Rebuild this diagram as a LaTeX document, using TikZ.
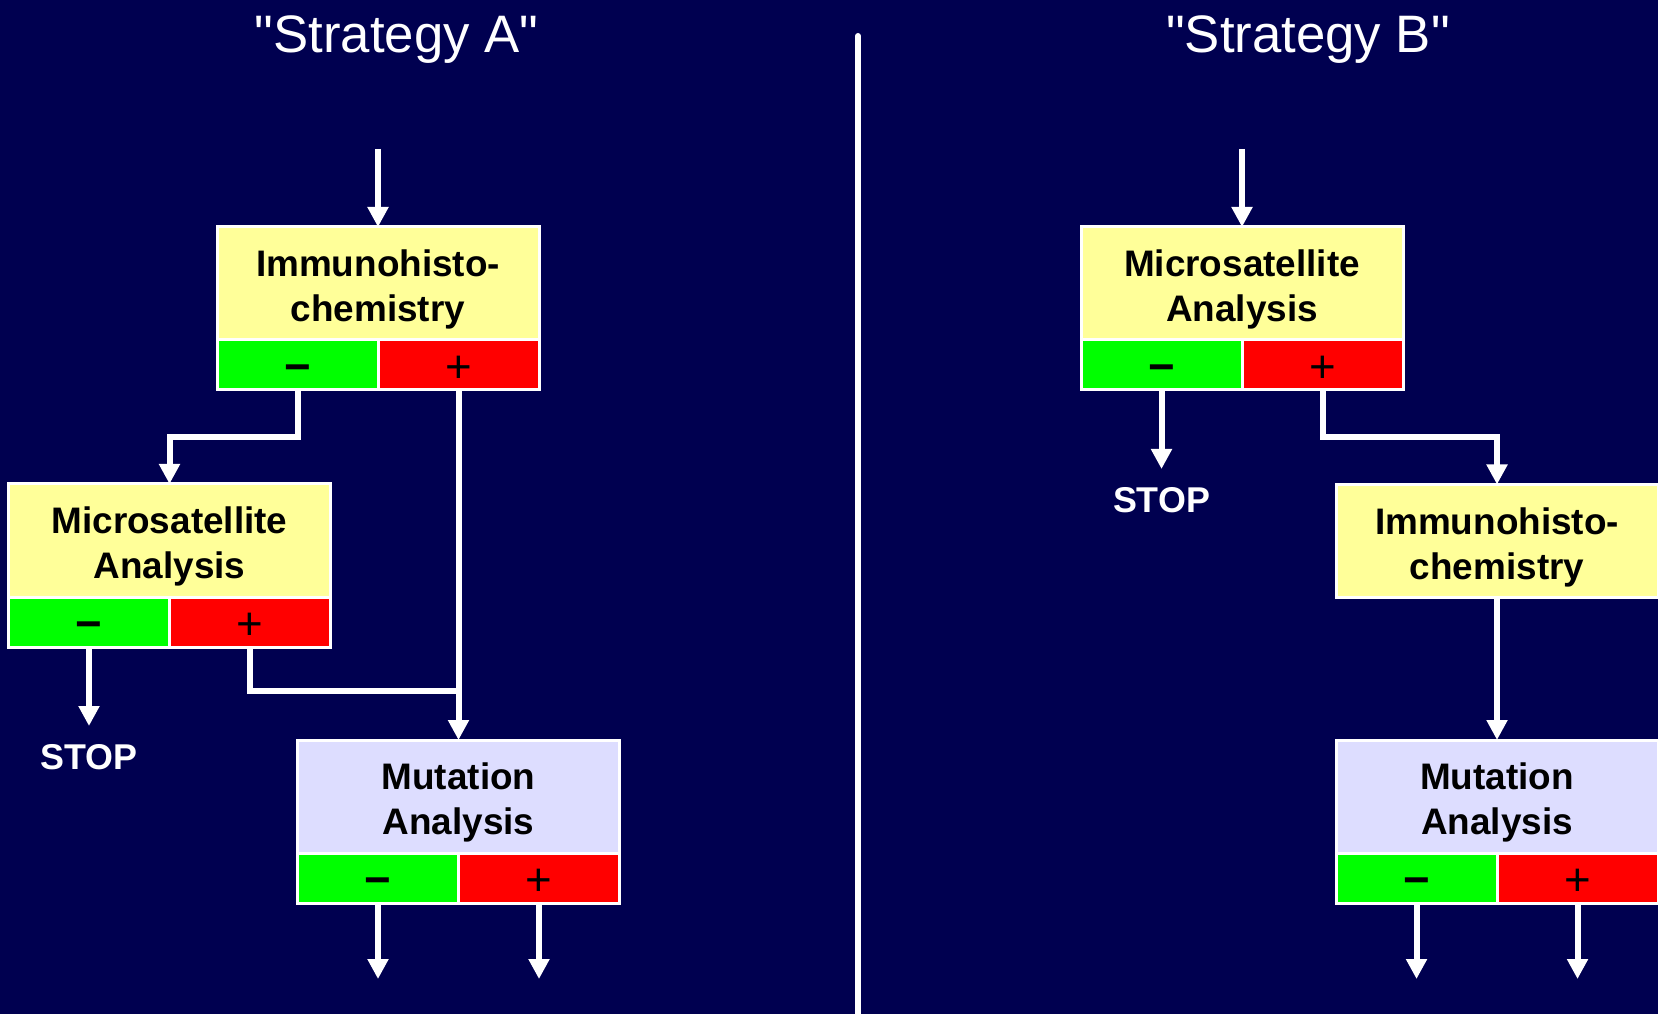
\documentclass[tikz,border=0pt]{standalone}
\usepackage{fontspec}
\setsansfont{Liberation Sans}[Ligatures=TeXOff]
\usetikzlibrary{arrows.meta,positioning,calc}
\definecolor{navy}{RGB}{0,0,80}
\definecolor{paleyellow}{RGB}{255,255,153}
\definecolor{palelilac}{RGB}{221,221,255}
\definecolor{neggreen}{RGB}{0,255,0}
\definecolor{posred}{RGB}{255,0,0}

\begin{document}
\begin{tikzpicture}[>={Triangle[length=0.2cm,width=0.2cm]},wire/.style={draw=white,line width=0.06cm},arr/.style={wire,->},assay/.style={draw=white,line width=0.03cm,outer sep=0pt,fill=paleyellow,minimum width=3.22cm,minimum height=1.13cm,inner sep=0pt,align=center,text height=21.8pt,text depth=0pt,font=\sffamily\bfseries\fontsize{10.5}{12.8}\selectfont},mutation/.style={assay,fill=palelilac},minus cell/.style={draw=white,line width=0.03cm,outer sep=0pt,fill=neggreen,minimum width=1.61cm,minimum height=0.5cm,inner sep=0pt,text height=0.98em,text depth=0pt,font=\sffamily\bfseries\fontsize{13}{13}\selectfont},plus cell/.style={minus cell,fill=posred,font=\sffamily\fontsize{13}{13}\selectfont},stop label/.style={text=white,inner sep=0.18cm,font=\sffamily\bfseries\fontsize{10.2}{12}\selectfont},heading/.style={text=white,anchor=base,font=\sffamily\fontsize{15}{18}\selectfont}]
            
            \useasboundingbox (0,0) rectangle (16.58,-10.14);
            \fill[navy] (0,0) rectangle (16.58,-10.14);
            \draw[wire,line cap=round] (8.58,-0.36) -- (8.58,-10.3);
            
            \node[heading] (headA) at (3.965,-0.53) {"Strategy A"};
            \node[heading] (headB) at (13.08,-0.53) {"Strategy B"};
            
            \node[assay] (ihcA) at (3.78,-2.835) {Immunohisto-\\chemistry};
            \node[minus cell,below right=0pt and 0pt of ihcA.south west] (ihcAneg) {−};
            \node[plus cell,right=0pt of ihcAneg] (ihcApos) {+};
            
            \node[assay] (msaA) at (1.695,-5.405) {Microsatellite\\Analysis};
            \node[minus cell,below right=0pt and 0pt of msaA.south west] (msaAneg) {−};
            \node[plus cell,right=0pt of msaAneg] (msaApos) {+};
            \node[stop label,below=0.79cm of msaAneg] (stopA) {STOP};
            
            \node[mutation,below=3.5cm of ihcApos] (mutA) {Mutation\\Analysis};
            \node[minus cell,below right=0pt and 0pt of mutA.south west] (mutAneg) {−};
            \node[plus cell,right=0pt of mutAneg] (mutApos) {+};
            
            \node[assay] (msaB) at (12.42,-2.835) {Microsatellite\\Analysis};
            \node[minus cell,below right=0pt and 0pt of msaB.south west] (msaBneg) {−};
            \node[plus cell,right=0pt of msaBneg] (msaBpos) {+};
            \node[stop label,below=0.79cm of msaBneg] (stopB) {STOP};
            
            \node[assay] (ihcB) at (14.97,-5.41) {Immunohisto-\\chemistry};
            
            \node[mutation,below=1.425cm of ihcB] (mutB) {Mutation\\Analysis};
            \node[minus cell,below right=0pt and 0pt of mutB.south west] (mutBneg) {−};
            \node[plus cell,right=0pt of mutBneg] (mutBpos) {+};
            
            \coordinate (inA) at (3.78,-1.49);
            \coordinate (inB) at (12.42,-1.49);
            \coordinate (jA) at ($(ihcApos.south)!0.86!(mutA.north)$);
            \coordinate[below=0.76cm of mutAneg] (endAneg);
            \coordinate[below=0.76cm of mutApos] (endApos);
            \coordinate[below=0.76cm of mutBneg] (endBneg);
            \coordinate[below=0.76cm of mutBpos] (endBpos);
            
            \path[every edge/.append style={arr}]
            (inA) edge (ihcA)
            (ihcApos) edge (mutA)
            (msaAneg) edge (stopA)
            (mutAneg) edge (endAneg)
            (mutApos) edge (endApos)
            (inB) edge (msaB)
            (msaBneg) edge (stopB)
            (ihcB) edge (mutB)
            (mutBneg) edge (endBneg)
            (mutBpos) edge (endBpos)
            ;
            \draw[arr] (ihcAneg) |- ($(ihcAneg.south)!.5!(msaA.north)$) -| (msaA);
            \draw[wire] (msaApos) |- (jA);
            \draw[arr] (msaBpos) |- ($(msaBpos.south)!.5!(ihcB.north)$) -| (ihcB);
        \end{tikzpicture}
\end{document}
